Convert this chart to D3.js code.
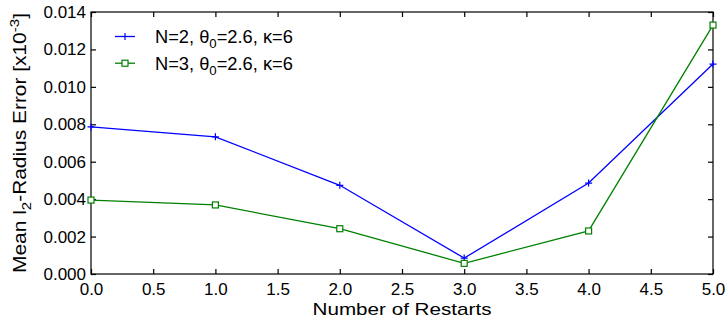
<!DOCTYPE html>
<html>
<head>
<meta charset="utf-8">
<script src="https://cdn.jsdelivr.net/npm/d3@7"></script>
<style>
  body { margin: 0; background: #fff; }
  svg text { font-family: "Liberation Sans", Arial, sans-serif; fill: #000; }
</style>
</head>
<body>
<div id="chart"></div>
<script>
// data
const restarts = [0, 1, 2, 3, 4, 5];
const seriesN2 = [0.00786, 0.00733, 0.00474, 0.00085, 0.00486, 0.01122];
const seriesN3 = [0.00395, 0.00369, 0.00242, 0.00057, 0.0023, 0.0133];
const xTicks = [0, 0.5, 1, 1.5, 2, 2.5, 3, 3.5, 4, 4.5, 5];
const yTicks = [0, 0.002, 0.004, 0.006, 0.008, 0.010, 0.012, 0.014];

const W = 726, H = 322;
const margin = { top: 12, right: 13, bottom: 48, left: 91 };
const width = W - margin.left - margin.right;
const height = H - margin.top - margin.bottom;

const svg = d3.select("#chart").append("svg")
  .attr("width", W).attr("height", H);
const g = svg.append("g").attr("transform", `translate(${margin.left},${margin.top})`);

const x = d3.scaleLinear().domain([0, 5]).range([0, width]);
const y = d3.scaleLinear().domain([0, 0.014]).range([height, 0]);

// frame
g.append("rect").attr("width", width).attr("height", height)
  .attr("fill", "none").attr("stroke", "#000").attr("stroke-width", 1.2);

// axes, ticks pointing inward on all four sides
g.append("g").attr("transform", `translate(0,${height})`)
  .call(d3.axisBottom(x).tickValues(xTicks).tickFormat(d3.format(".1f")).tickSizeInner(-5).tickSizeOuter(0).tickPadding(9));
g.append("g")
  .call(d3.axisLeft(y).tickValues(yTicks).tickFormat(d3.format(".3f")).tickSizeInner(-5).tickSizeOuter(0).tickPadding(5));
g.append("g").call(d3.axisTop(x).tickValues(xTicks).tickFormat("").tickSizeInner(-5).tickSizeOuter(0));
g.append("g").attr("transform", `translate(${width},0)`)
  .call(d3.axisRight(y).tickValues(yTicks).tickFormat("").tickSizeInner(-5).tickSizeOuter(0));

g.selectAll(".domain").remove();
g.selectAll(".tick line").attr("stroke", "#000").attr("stroke-width", 1.2);
g.selectAll(".tick text").style("font-size", "17px").attr("fill", "#000")
  .style("font-family", "'Liberation Sans', Arial, sans-serif");

// the original text is a bit wider than Liberation Sans, stretch to fit
function stretch(sel, target) {
  const w = sel.node().getBBox().width;
  return target / w;
}

// x axis label
const xl = svg.append("text").attr("text-anchor", "middle").style("font-size", "17px")
  .text("Number of Restarts");
const sx = stretch(xl, 179);
xl.attr("transform", `translate(${margin.left + width / 2},314.5) scale(${sx},1)`);

// y axis label
const yl = svg.append("text").attr("text-anchor", "middle").style("font-size", "18px");
yl.append("tspan").text("Mean l");
yl.append("tspan").attr("dy", 5).style("font-size", "13px").text("2");
yl.append("tspan").attr("dy", -5).text("-Radius Error [x10");
yl.append("tspan").attr("dy", -7).style("font-size", "13px").text("-3");
yl.append("tspan").attr("dy", 7).text("]");
const sy = stretch(yl, 260);
yl.attr("transform", `translate(26,${margin.top + height / 2}) rotate(-90) scale(${sy},1)`);

const series = [
  { name: "N=2", values: seriesN2, color: "#0000ff", marker: "plus" },
  { name: "N=3", values: seriesN3, color: "#008000", marker: "square" }
];

const line = d3.line().x((d, i) => x(restarts[i])).y(d => y(d));

function drawMarker(sel, type, color) {
  if (type === "plus") {
    sel.append("path").attr("d", "M-3.5,0H3.5M0,-3.5V3.5")
      .attr("stroke", color).attr("stroke-width", 1.2).attr("fill", "none");
  } else {
    sel.append("rect").attr("x", -3).attr("y", -3).attr("width", 6).attr("height", 6)
      .attr("fill", "#fff").attr("stroke", color).attr("stroke-width", 1.2);
  }
}

series.forEach(s => {
  g.append("path").datum(s.values)
    .attr("d", line).attr("fill", "none")
    .attr("stroke", s.color).attr("stroke-width", 1.3);
  g.selectAll(null).data(s.values).join("g")
    .attr("transform", (d, i) => `translate(${x(restarts[i])},${y(d)})`)
    .each(function () { drawMarker(d3.select(this), s.marker, s.color); });
});

// legend
const legend = svg.append("g").attr("transform", "translate(115,36.5)");
series.forEach((s, i) => {
  const row = legend.append("g").attr("transform", `translate(0,${i * 26.7})`);
  row.append("line").attr("x1", 0).attr("x2", 20).attr("y1", 0).attr("y2", 0)
    .attr("stroke", s.color).attr("stroke-width", 1.3);
  const m = row.append("g").attr("transform", "translate(10,0)");
  drawMarker(m, s.marker, s.color);
  const t = row.append("text").style("font-size", "18px");
  t.append("tspan").text(s.name + ", \u03B8");
  t.append("tspan").attr("dy", 5).style("font-size", "13px").text("0");
  t.append("tspan").attr("dy", -5).text("=2.6, \u03BA=6");
  const k = stretch(t, 138);
  t.attr("transform", `translate(40,6.5) scale(${k},1)`);
});
</script>
</body>
</html>
